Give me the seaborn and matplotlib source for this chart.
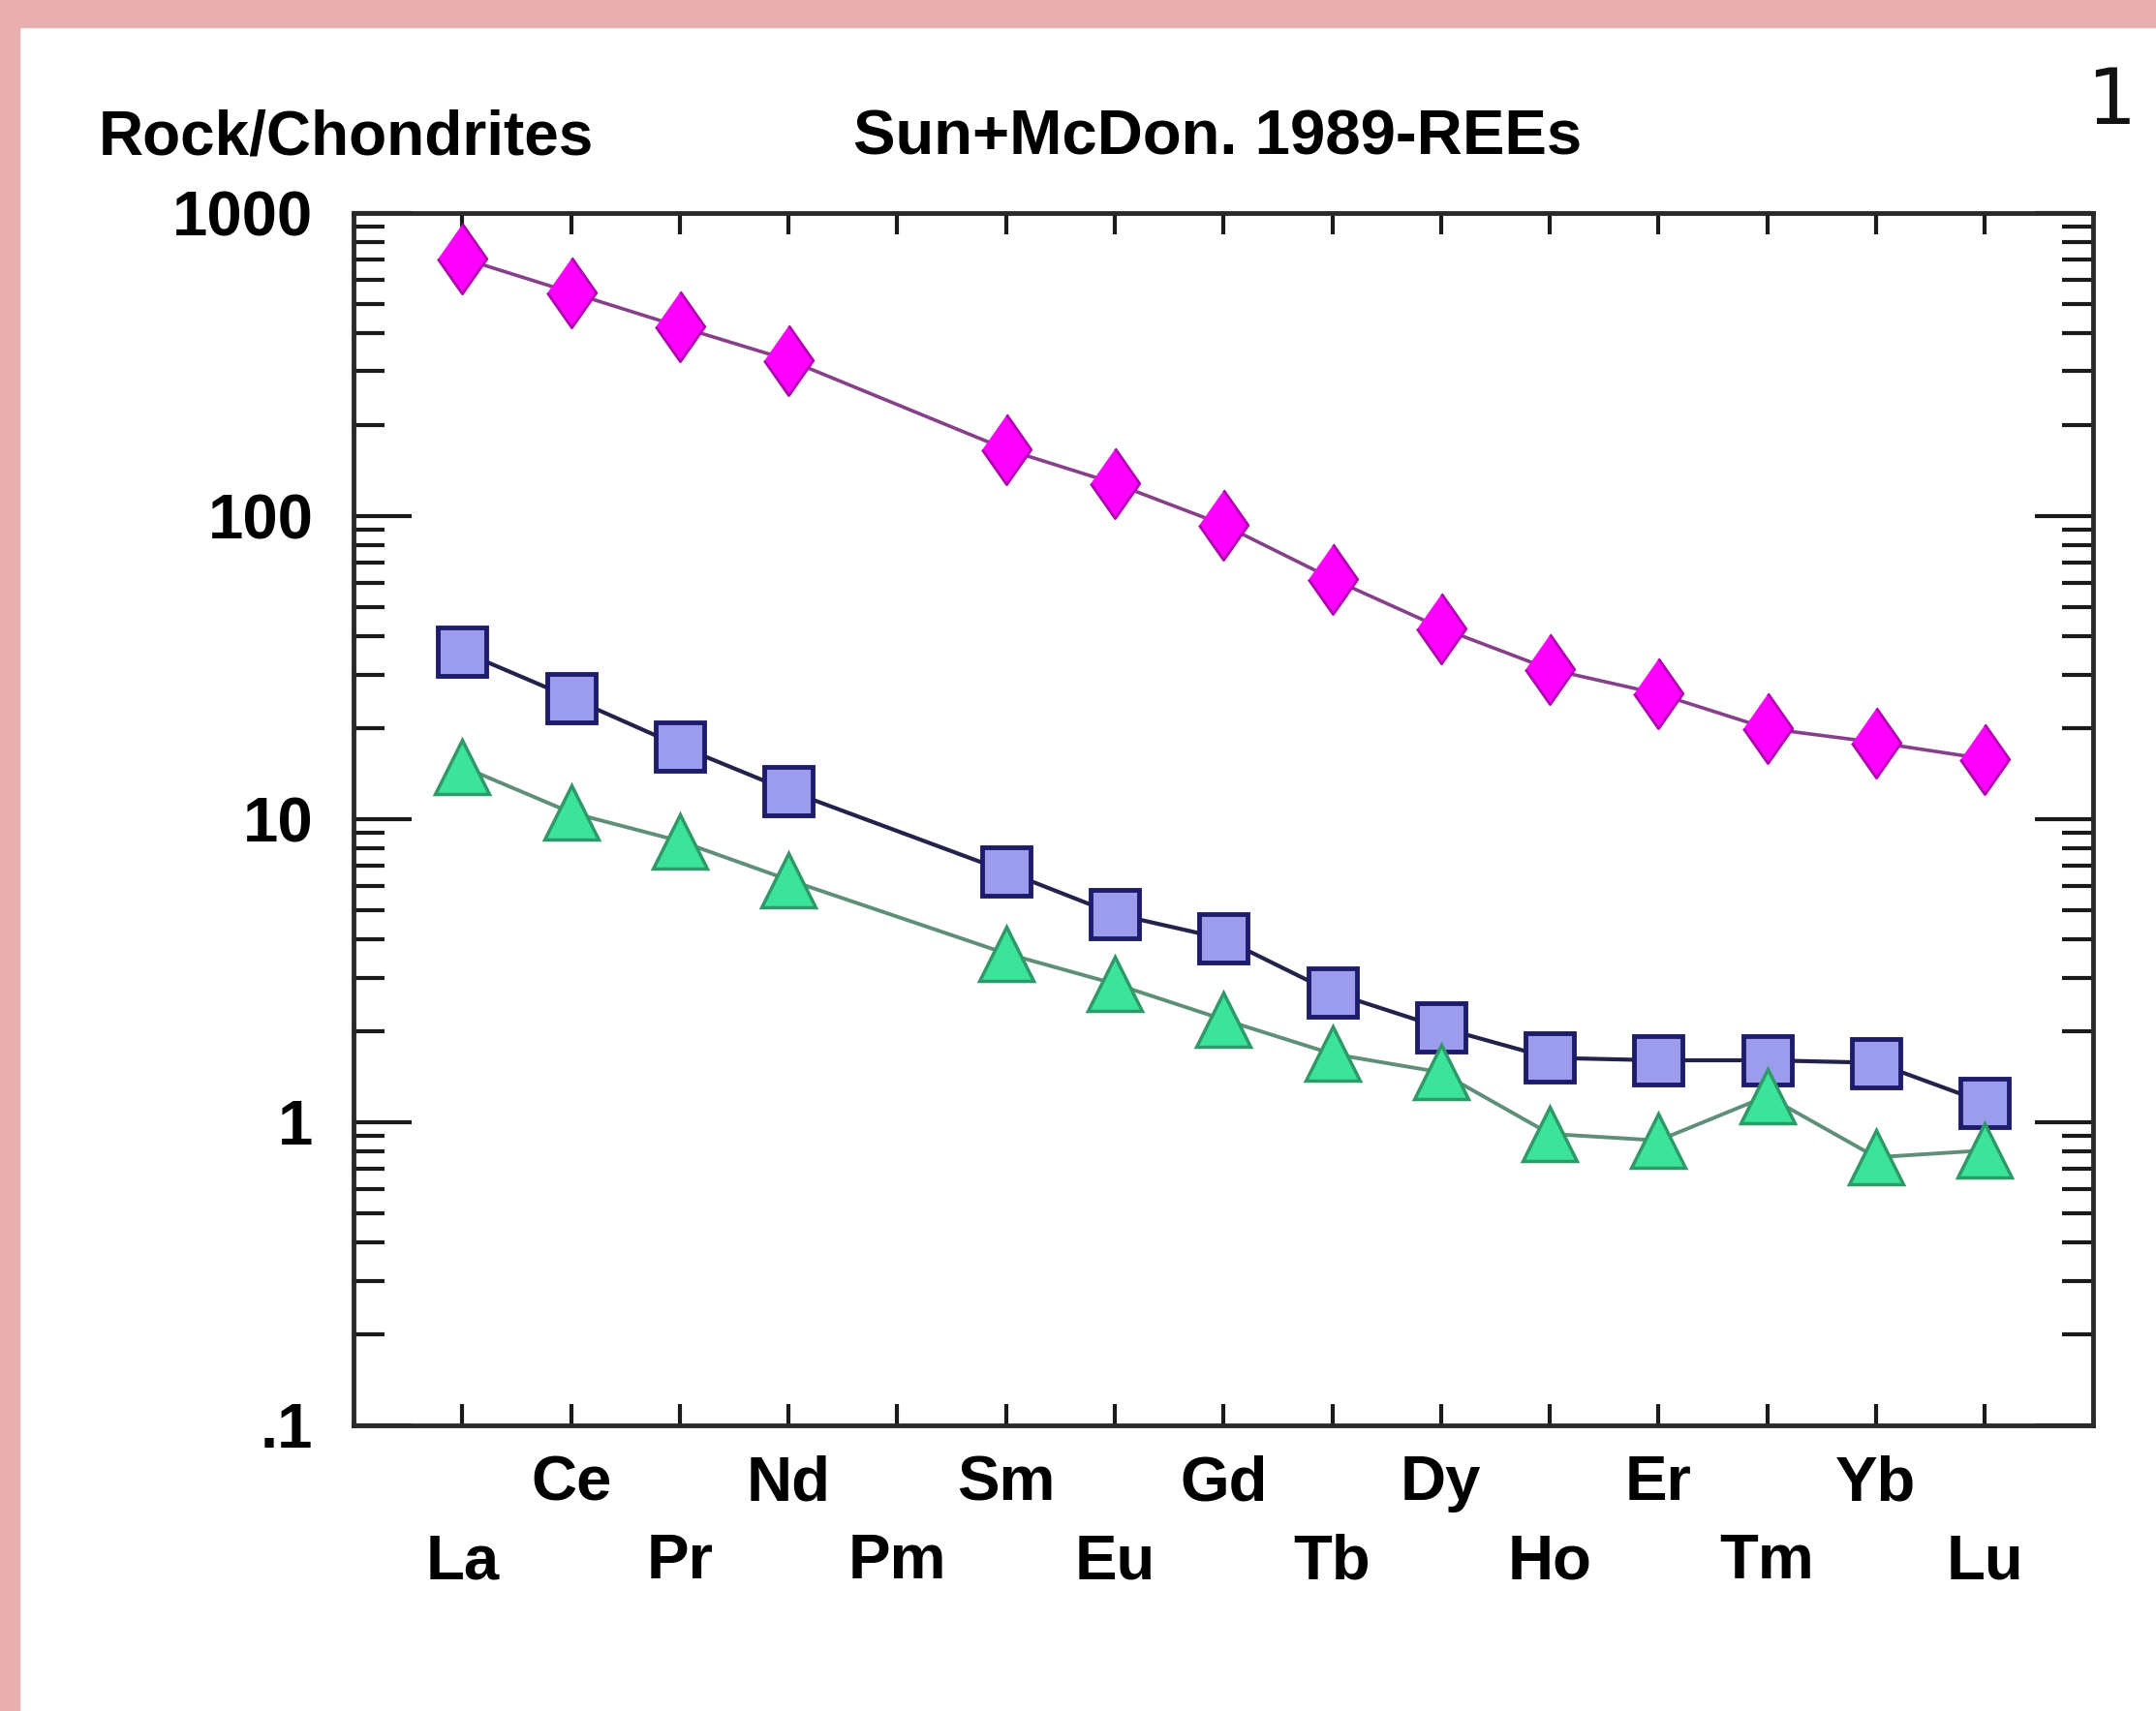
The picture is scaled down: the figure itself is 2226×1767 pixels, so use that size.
import numpy as np
import pandas as pd
import seaborn as sns
import matplotlib.pyplot as plt
from matplotlib.patches import Rectangle

elements = ['La', 'Ce', 'Pr', 'Nd', 'Pm', 'Sm', 'Eu', 'Gd', 'Tb', 'Dy', 'Ho', 'Er', 'Tm', 'Yb', 'Lu']
# chondrite-normalised values, Pm not analysed
sample_diamond = [708, 546, 421, 327, np.nan, 166, 128, 93.5, 62, 42.7, 31.2, 25.9, 19.9, 17.9, 15.8]
sample_square = [35.7, 25.1, 17.4, 12.4, np.nan, 6.72, 4.86, 4.03, 2.68, 2.05, 1.63, 1.6, 1.6, 1.57, 1.16]
sample_triangle = [14.9, 10.5, 8.46, 6.3, np.nan, 3.6, 2.86, 2.18, 1.68, 1.46, 0.915, 0.87, 1.22, 0.766, 0.807]
y_ticks = [0.1, 1, 10, 100, 1000]
y_tick_labels = ['.1', '1', '10', '100', '1000']

pos = np.arange(len(elements))
df = pd.DataFrame({'pos': pos, 'element': elements,
                   'diamond': sample_diamond, 'square': sample_square,
                   'triangle': sample_triangle})

sns.set_style('white')
plt.rcParams['font.family'] = ['Liberation Sans', 'DejaVu Sans']
plt.rcParams['text.color'] = 'black'
plt.rcParams['xtick.color'] = 'black'
plt.rcParams['ytick.color'] = 'black'

fig = plt.figure(figsize=(22.26, 17.67), dpi=100)
ax = fig.add_axes([0.164, 0.167, 0.807, 0.7086])

# pink frame of the slide
fig.patches.append(Rectangle((0, 0), 0.009, 1, transform=fig.transFigure, color='#e8aeae', zorder=0))
fig.patches.append(Rectangle((0, 0.984), 1, 0.016, transform=fig.transFigure, color='#e8aeae', zorder=0))

thin_diamond = [(0, 1), (0.7, 0), (0, -1), (-0.7, 0)]

sns.lineplot(data=df, x='pos', y='diamond', ax=ax, sort=False, estimator=None,
             color='#86408a', linewidth=2.6, marker=thin_diamond, markersize=52,
             markerfacecolor='#ff00ff', markeredgecolor='#b000b0', markeredgewidth=2)
sns.lineplot(data=df, x='pos', y='square', ax=ax, sort=False, estimator=None,
             color='#22224a', linewidth=3, marker='s', markersize=36,
             markerfacecolor='#9c9cee', markeredgecolor='#1c1c6a', markeredgewidth=3.5)
sns.lineplot(data=df, x='pos', y='triangle', ax=ax, sort=False, estimator=None,
             color='#5f8f78', linewidth=2.8, marker='^', markersize=41,
             markerfacecolor='#3ce39a', markeredgecolor='#2e9a68', markeredgewidth=2.5)

ax.set_yscale('log')
ax.set_ylim(0.1, 1000)
ax.set_xlim(-1, len(elements))
ax.set_xlabel('')
ax.set_ylabel('')

ax.set_yticks(y_ticks, y_tick_labels)
ax.set_xticks(pos, elements)

for s in ax.spines.values():
    s.set_visible(True)
    s.set_color('#2a2a2a')
    s.set_linewidth(3.5)

ax.tick_params(axis='y', which='major', direction='in', length=43, width=3,
               left=True, right=True, labelsize=47, pad=30, color='#1a1a1a')
ax.tick_params(axis='y', which='minor', direction='in', length=23, width=3,
               left=True, right=True, color='#1a1a1a')
ax.tick_params(axis='x', which='major', direction='in', length=16, width=3,
               bottom=True, top=True, labelsize=47, color='#1a1a1a')
ax.tick_params(axis='x', which='minor', bottom=False, top=False)

for lab in ax.get_yticklabels() + ax.get_xticklabels():
    lab.set_fontweight('bold')
    lab.set_color('black')

# element names in two staggered rows
for i, tick in enumerate(ax.xaxis.get_major_ticks()):
    tick.set_pad(22 if i % 2 == 1 else 80)

fig.text(0.0458, 0.9196, 'Rock/Chondrites', ha='left', va='center',
         fontsize=46, fontweight='bold', color='black')
fig.text(0.5647, 0.9196, 'Sun+McDon. 1989-REEs', ha='center', va='center',
         fontsize=47, fontweight='bold', color='black')
fig.text(0.979, 0.94, '1', ha='center', va='center', fontsize=58,
         family=['DejaVu Sans'], color='#111111')

fig.savefig('out.png', dpi=100, facecolor='white')
